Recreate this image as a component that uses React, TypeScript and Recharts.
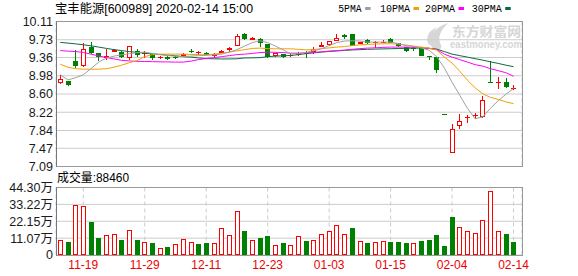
import React from 'react';
import { ComposedChart, Bar, Line, XAxis, YAxis, CartesianGrid } from 'recharts';

// ---------- data ----------
const dates = [
  '11-14', '11-15', '11-18', '11-19', '11-20', '11-21', '11-22', '11-25', '11-26', '11-27', '11-28', '11-29',
  '12-02', '12-03', '12-04', '12-05', '12-06', '12-09', '12-10', '12-11', '12-12', '12-13', '12-16', '12-17',
  '12-18', '12-19', '12-20', '12-23', '12-24', '12-25', '12-26', '12-27', '12-30', '12-31',
  '01-02', '01-03', '01-06', '01-07', '01-08', '01-09', '01-10', '01-13', '01-14', '01-15', '01-16', '01-17',
  '01-20', '01-21', '01-22', '01-23',
  '02-03', '02-04', '02-05', '02-06', '02-07', '02-10', '02-11', '02-12', '02-13', '02-14',
];

const openP = [8.83, 8.87, 9.28, 9.175, 9.57, 9.45, 9.36, 9.47, 9.47, 9.36, 9.5, 9.43, 9.43, 9.36, 9.38, 9.38, 9.4, 9.5, 9.45, 9.46, 9.4, 9.46, 9.515, 9.6, 9.84, 9.73, 9.745, 9.635, 9.395, 9.43, 9.39, 9.405, 9.455, 9.48, 9.585, 9.62, 9.71, 9.83, 9.85, 9.65, 9.73, 9.66, 9.66, 9.75, 9.66, 9.57, 9.56, 9.555, 9.385, 9.38, 8.19, 7.37, 7.93, 8.1, 8.14, 8.12, 8.86, 8.82, 8.85, 8.71];
const highP = [8.99, 8.88, 9.52, 9.66, 9.68, 9.45, 9.54, 9.54, 9.5, 9.6, 9.54, 9.49, 9.44, 9.39, 9.39, 9.39, 9.46, 9.535, 9.49, 9.48, 9.46, 9.51, 9.57, 9.85, 9.87, 9.79, 9.77, 9.64, 9.46, 9.44, 9.45, 9.47, 9.49, 9.58, 9.675, 9.71, 9.86, 9.86, 9.85, 9.69, 9.75, 9.7, 9.73, 9.76, 9.67, 9.58, 9.58, 9.56, 9.4, 9.38, 8.19, 7.98, 8.19, 8.17, 8.21, 8.55, 9.28, 8.96, 8.94, 8.78];
const lowP = [8.8, 8.77, 9.15, 9.17, 9.43, 9.28, 9.31, 9.47, 9.35, 9.31, 9.38, 9.35, 9.31, 9.33, 9.31, 9.33, 9.38, 9.445, 9.41, 9.41, 9.38, 9.45, 9.48, 9.6, 9.72, 9.72, 9.58, 9.34, 9.38, 9.36, 9.38, 9.39, 9.35, 9.43, 9.585, 9.6, 9.71, 9.74, 9.6, 9.64, 9.64, 9.56, 9.66, 9.66, 9.58, 9.48, 9.49, 9.39, 9.3, 9.03, 8.19, 7.37, 7.88, 8.0, 8.08, 8.09, 8.84, 8.71, 8.73, 8.69];
const closeP = [8.92, 8.78, 9.19, 9.535, 9.45, 9.37, 9.4, 9.51, 9.37, 9.59, 9.42, 9.45, 9.36, 9.38, 9.33, 9.35, 9.44, 9.48, 9.47, 9.42, 9.44, 9.5, 9.55, 9.81, 9.745, 9.77, 9.655, 9.375, 9.445, 9.375, 9.42, 9.455, 9.43, 9.53, 9.62, 9.7, 9.77, 9.79, 9.61, 9.68, 9.66, 9.68, 9.69, 9.665, 9.59, 9.49, 9.54, 9.395, 9.365, 9.1, 8.19, 7.88, 8.03, 8.12, 8.17, 8.48, 8.85, 8.86, 8.75, 8.715];

const ma5 = [9.0, 8.894, 8.94, 9.0, 9.128, 9.264, 9.347, 9.389, 9.416, 9.441, 9.462, 9.472, 9.445, 9.42, 9.399, 9.389, 9.382, 9.389, 9.399, 9.405, 9.416, 9.43, 9.472, 9.524, 9.598, 9.671, 9.709, 9.671, 9.598, 9.52, 9.435, 9.441, 9.466, 9.504, 9.541, 9.608, 9.671, 9.702, 9.709, 9.702, 9.681, 9.681, 9.681, 9.681, 9.65, 9.608, 9.591, 9.556, 9.514, 9.378, 9.138, 8.845, 8.574, 8.302, 8.083, 8.125, 8.302, 8.459, 8.594, 8.714];
const ma10 = [9.22, 9.158, 9.127, 9.117, 9.117, 9.117, 9.127, 9.158, 9.201, 9.253, 9.295, 9.378, 9.42, 9.43, 9.43, 9.43, 9.43, 9.424, 9.42, 9.416, 9.43, 9.447, 9.472, 9.499, 9.524, 9.549, 9.556, 9.545, 9.541, 9.541, 9.541, 9.53, 9.52, 9.524, 9.545, 9.56, 9.577, 9.587, 9.608, 9.623, 9.633, 9.64, 9.646, 9.646, 9.64, 9.619, 9.598, 9.577, 9.556, 9.514, 9.368, 9.243, 9.075, 8.887, 8.729, 8.604, 8.53, 8.488, 8.436, 8.398];
const ma20 = [9.504, 9.493, 9.483, 9.466, 9.43, 9.393, 9.361, 9.33, 9.301, 9.288, 9.28, 9.278, 9.274, 9.27, 9.268, 9.264, 9.264, 9.284, 9.316, 9.34, 9.357, 9.378, 9.399, 9.42, 9.43, 9.445, 9.462, 9.472, 9.468, 9.462, 9.451, 9.451, 9.455, 9.468, 9.479, 9.493, 9.504, 9.514, 9.531, 9.545, 9.556, 9.562, 9.571, 9.577, 9.577, 9.577, 9.573, 9.567, 9.55, 9.525, 9.43, 9.368, 9.316, 9.264, 9.211, 9.18, 9.127, 9.086, 9.044, 8.97];
const ma30 = [9.675, 9.66, 9.644, 9.625, 9.604, 9.577, 9.55, 9.524, 9.504, 9.483, 9.466, 9.451, 9.437, 9.422, 9.41, 9.395, 9.378, 9.368, 9.351, 9.337, 9.333, 9.33, 9.33, 9.333, 9.351, 9.353, 9.357, 9.378, 9.389, 9.395, 9.403, 9.42, 9.441, 9.458, 9.472, 9.487, 9.497, 9.508, 9.518, 9.524, 9.531, 9.535, 9.539, 9.543, 9.547, 9.552, 9.556, 9.556, 9.552, 9.535, 9.483, 9.43, 9.399, 9.368, 9.336, 9.305, 9.27, 9.237, 9.201, 9.168];

// volume in 万
const volume = [9.6, 8.5, 33.0, 32.4, 21.5, 11.1, 12.8, 14.1, 9.8, 16.7, 9.8, 8.3, 7.8, 4.3, 5.2, 7.0, 10.2, 8.3, 7.2, 7.8, 7.6, 18.0, 12.8, 29.1, 15.6, 9.6, 11.1, 12.4, 6.3, 7.8, 6.3, 12.4, 9.1, 9.8, 13.7, 15.6, 19.5, 14.1, 17.6, 9.1, 7.8, 8.5, 9.1, 8.5, 8.5, 7.8, 7.8, 9.1, 9.8, 13.0, 6.1, 24.8, 18.2, 15.6, 14.3, 22.8, 41.7, 15.6, 13.7, 8.846];
const volUp = [1, 0, 1, 1, 0, 0, 1, 1, 0, 1, 0, 1, 0, 1, 0, 1, 1, 1, 0, 0, 1, 1, 1, 1, 0, 1, 0, 0, 1, 0, 1, 1, 0, 1, 1, 1, 1, 1, 0, 1, 0, 1, 1, 0, 0, 0, 1, 0, 0, 0, 0, 0, 1, 1, 1, 1, 1, 1, 0, 0];

const priceTicks = [7.09, 7.47, 7.84, 8.22, 8.6, 8.98, 9.36, 9.73, 10.11];
const volTicks = [0, 11.07, 22.15, 33.22, 44.3];
const dateTicks = ['11-19', '11-29', '12-11', '12-23', '01-03', '01-15', '02-04', '02-14'];
const titleText = '宝丰能源[600989] 2020-02-14 15:00';
const lastVolume = 88460;
const legendItems = [
  { name: '5PMA', color: '#a0a0a0' },
  { name: '10PMA', color: '#f0a000' },
  { name: '20PMA', color: '#ff00ff' },
  { name: '30PMA', color: '#0a6b3a' },
];

const rows = dates.map((d, i) => ({
  i,
  date: d,
  open: openP[i],
  high: highP[i],
  low: lowP[i],
  close: closeP[i],
  prevClose: i > 0 ? closeP[i - 1] : openP[i],
  range: [lowP[i], highP[i] > lowP[i] ? highP[i] : lowP[i] + 0.001],
  ma5: ma5[i],
  ma10: ma10[i],
  ma20: ma20[i],
  ma30: ma30[i],
  vol: volume[i],
  up: volUp[i] === 1,
}));
const tickIdx = dateTicks.map((t) => dates.indexOf(t));
const X_DOMAIN: [number, number] = [-0.55, 60.1];

const RED = '#ff0000';
const GREEN = '#008000';

function CandleShape(props: any) {
  const { x, y, width, height, payload } = props;
  if (x == null || y == null || !payload) return null;
  const [lo, hi] = payload.range;
  const top = Math.min(y, y + height);
  const bot = Math.max(y, y + height);
  const py = (p: number) => top + ((hi - p) / (hi - lo)) * (bot - top);
  const cx = Math.round(x + width / 2) + 0.5;
  const { open, close, high, low, prevClose } = payload;
  const isUp = close > open || (close === open && close >= prevClose);
  const yH = Math.round(py(high));
  const yL = Math.round(py(low));
  const yBT = Math.round(py(Math.max(open, close)));
  const yBB = Math.round(py(Math.min(open, close)));
  const h = yBB - yBT;
  if (isUp) {
    if (h <= 2) {
      return (
        <g>
          <line x1={cx} x2={cx} y1={yH} y2={Math.max(yL, yBT + 1)} stroke={RED} strokeWidth={1} />
          <rect x={cx - 2.5} y={yBT} width={5} height={Math.max(1, h)} fill={RED} />
        </g>
      );
    }
    return (
      <g>
        <line x1={cx} x2={cx} y1={yH} y2={yBT} stroke={RED} strokeWidth={1} />
        <line x1={cx} x2={cx} y1={yBB} y2={yL} stroke={RED} strokeWidth={1} />
        <rect x={cx - 2} y={yBT + 0.5} width={4} height={h - 1} fill="#fff" stroke={RED} strokeWidth={1} />
      </g>
    );
  }
  return (
    <g>
      <line x1={cx} x2={cx} y1={yH} y2={Math.max(yL, yBT + 1)} stroke={GREEN} strokeWidth={1} />
      <rect x={cx - 2.5} y={yBT} width={5} height={Math.max(1, h)} fill={GREEN} />
    </g>
  );
}

function VolShape(props: any) {
  const { x, y, width, height, payload } = props;
  if (x == null || y == null || !payload) return null;
  const cx = Math.round(x + width / 2) + 0.5;
  const t = Math.round(Math.min(y, y + height));
  const b = Math.round(Math.max(y, y + height));
  if (payload.up) {
    return <rect x={cx - 2} y={t + 0.5} width={4} height={Math.max(0, b - t - 1)} fill="#fff" stroke={RED} strokeWidth={1} />;
  }
  return <rect x={cx - 2.5} y={t} width={5} height={b - t} fill={GREEN} />;
}

const FONT = 'Arial, "Liberation Sans", "Noto Sans CJK SC", sans-serif';
const GRID = '#cccccc';
const FRAME = '#999999';

export default function App() {
  return (
    <div style={{ position: 'absolute', left: 0, top: 0, width: 578, height: 276, background: '#fff', fontFamily: FONT, overflow: 'hidden' }}>
      {/* watermark (behind) */}
      <svg width={578} height={276} style={{ position: 'absolute', left: 0, top: 0 }}>
        <g fill="#d6d6d6">
          <path d="M434 50 C426 42 430 29 448 23 C440 31 437 38 441 45 C442 48 440 50 436 50 Z" />
          <path d="M429 45 C425 38 428 31 437 27 C432 33 431 38 433 44 Z" />
          <text x={452} y={35.5} fontSize={13} fontWeight={700} textLength={69} lengthAdjust="spacingAndGlyphs" fontFamily='"Noto Sans CJK SC", sans-serif'>东方财富网</text>
          <text x={450} y={48} fontSize={10} fontWeight={700} textLength={72} lengthAdjust="spacingAndGlyphs" fontFamily='Arial, "Liberation Sans", sans-serif'>eastmoney.com</text>
        </g>
      </svg>

      {/* price chart */}
      <div style={{ position: 'absolute', left: 0, top: 0 }}>
        <ComposedChart width={578} height={176} data={rows} margin={{ top: 21.5, right: 56, bottom: 9.5, left: 0 }}>
          <XAxis dataKey="i" type="number" domain={X_DOMAIN} allowDataOverflow ticks={tickIdx} interval={0} height={0} tick={false} tickLine={false} axisLine={false} />
          <YAxis
            type="number"
            domain={[7.09, 10.11]}
            allowDataOverflow
            ticks={priceTicks}
            interval={0}
            width={56}
            tickLine={false}
            axisLine={false}
            tickSize={1}
            tickMargin={2}
            tick={{ fontSize: 12.5, fill: '#1a1a1a' }}
            tickFormatter={(v: number) => v.toFixed(2)}
          />
          <CartesianGrid vertical={false} stroke={GRID} />
          <CartesianGrid horizontal={false} stroke={GRID} strokeDasharray="4 3" />
          <Line type="linear" dataKey="ma30" stroke="#0a6b3a" strokeWidth={1} dot={false} activeDot={false} isAnimationActive={false} />
          <Line type="linear" dataKey="ma20" stroke="#ff00ff" strokeWidth={1} dot={false} activeDot={false} isAnimationActive={false} />
          <Line type="linear" dataKey="ma10" stroke="#f0a000" strokeWidth={1} dot={false} activeDot={false} isAnimationActive={false} />
          <Line type="linear" dataKey="ma5" stroke="#a0a0a0" strokeWidth={1} dot={false} activeDot={false} isAnimationActive={false} />
          <Bar dataKey="range" barSize={5} shape={(p: any) => <CandleShape {...p} />} isAnimationActive={false} />
        </ComposedChart>
      </div>

      {/* volume chart */}
      <div style={{ position: 'absolute', left: 0, top: 176 }}>
        <ComposedChart width={578} height={100} data={rows} margin={{ top: 11.5, right: 56, bottom: 0, left: 0 }}>
          <XAxis
            dataKey="i"
            type="number"
            domain={X_DOMAIN}
            allowDataOverflow
            ticks={tickIdx}
            interval={0}
            height={21}
            tickLine={false}
            axisLine={false}
            tickSize={2}
            tickMargin={3.5}
            tick={{ fontSize: 12, fill: '#ee0000' }}
            tickFormatter={(v: number) => dates[v] ?? ''}
          />
          <YAxis
            type="number"
            domain={[0, 44.3]}
            allowDataOverflow
            ticks={volTicks}
            interval={0}
            width={56}
            tickLine={false}
            axisLine={false}
            tickSize={1}
            tickMargin={2}
            tick={{ fontSize: 12.5, fill: '#1a1a1a' }}
            tickFormatter={(v: number) => (v === 0 ? '0' : v.toFixed(2) + '万')}
          />
          <CartesianGrid vertical={false} stroke={GRID} />
          <CartesianGrid horizontal={false} stroke={GRID} strokeDasharray="4 3" />
          <Bar dataKey="vol" barSize={5} shape={(p: any) => <VolShape {...p} />} isAnimationActive={false} />
        </ComposedChart>
      </div>

      {/* frames */}
      <div style={{ position: 'absolute', left: 56, top: 21, width: 467, height: 146, boxSizing: 'border-box', border: `1px solid ${FRAME}`, borderLeftColor: '#777' }} />
      <div style={{ position: 'absolute', left: 56, top: 187, width: 467, height: 69, boxSizing: 'border-box', border: `1px solid ${FRAME}`, borderLeftColor: '#777' }} />

      {/* titles and legend */}
      <svg width={578} height={276} style={{ position: 'absolute', left: 0, top: 0, pointerEvents: 'none' }}>
        <text x={55} y={13} fontSize={12.5} fill="#000" textLength={198} lengthAdjust="spacingAndGlyphs" fontFamily={FONT}>{titleText}</text>
        {(() => {
          const xs = [338.3, 380, 425, 471.7];
          const ws = [23.3, 30, 30, 30];
          return legendItems.map((it, k) => (
            <g key={it.name}>
              <text x={xs[k]} y={12} fontSize={11.5} fill="#000" textLength={ws[k]} lengthAdjust="spacingAndGlyphs" fontFamily='"Liberation Mono", monospace'>{it.name}</text>
              <rect x={xs[k] + ws[k] + 3.5} y={7} width={5.5} height={3} fill={it.color} />
            </g>
          ));
        })()}
        <text x={57} y={182} fontSize={12.5} fill="#000" textLength={72} lengthAdjust="spacingAndGlyphs" fontFamily={FONT}>{'成交量:' + lastVolume}</text>
      </svg>
    </div>
  );
}
